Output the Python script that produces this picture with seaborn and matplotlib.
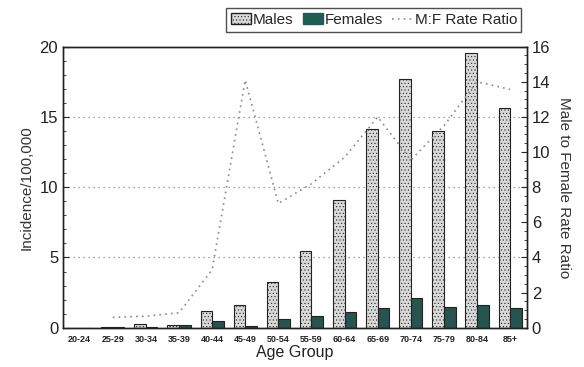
import numpy as np
import pandas as pd
import matplotlib
matplotlib.use('Agg')
import matplotlib.pyplot as plt
import seaborn as sns
from matplotlib.patches import Patch
from matplotlib.lines import Line2D
from matplotlib.ticker import MultipleLocator

# data
age_groups = ['20-24', '25-29', '30-34', '35-39', '40-44', '45-49', '50-54',
              '55-59', '60-64', '65-69', '70-74', '75-79', '80-84', '85+']
males = [0.0, 0.05, 0.26, 0.2, 1.18, 1.6, 3.22, 5.47, 9.07, 14.17, 17.68, 13.98, 19.58, 15.6]
females = [0.0, 0.05, 0.03, 0.2, 0.47, 0.12, 0.6, 0.82, 1.09, 1.39, 2.1, 1.46, 1.63, 1.42]
ratio = [np.nan, 0.59, 0.66, 0.85, 3.3, 14.1, 7.07, 8.2, 9.7, 12.0, 9.54, 11.5, 14.0, 13.56]

male_col = '#d9d9d9'
female_col = '#1f5c52'

sns.set_style('white')
plt.rcParams['font.family'] = ['Liberation Sans', 'DejaVu Sans']
plt.rcParams['hatch.linewidth'] = 0.4
plt.rcParams['hatch.color'] = '#8a8a8a'

df = pd.DataFrame({'age': age_groups * 2,
                   'rate': males + females,
                   'sex': ['Males'] * len(age_groups) + ['Females'] * len(age_groups)})

fig = plt.figure(figsize=(5.84, 3.67), dpi=100)
ax = fig.add_axes([0.108, 0.107, 0.794, 0.766])

sns.barplot(data=df, x='age', y='rate', hue='sex', order=age_groups,
            hue_order=['Males', 'Females'], palette=[male_col, female_col],
            width=0.7, gap=0, edgecolor='#222222', linewidth=0.8,
            legend=False, ax=ax)

# stipple the male bars
n = len(age_groups)
for bar in ax.patches[:n]:
    bar.set_hatch('.....')

ax.set_xlim(-0.5, n - 0.5)
ax.set_ylim(0, 20)
ax.yaxis.set_major_locator(MultipleLocator(5))
ax.yaxis.set_minor_locator(MultipleLocator(1))
for y in [5, 10, 15]:
    ax.axhline(y, color='#888888', linestyle=(0, (1, 3)), linewidth=0.9, zorder=0)
ax.set_xlabel('Age Group', fontsize=11.5, labelpad=1, color='#222222')
ax.set_ylabel('Incidence/100,000', fontsize=11, color='#333333')
ax.tick_params(axis='x', labelsize=6.5, length=0, pad=5, labelcolor='#222222')
ax.tick_params(axis='y', which='major', direction='in', length=4, labelsize=12, left=True,
               labelcolor='#222222')
ax.tick_params(axis='y', which='minor', direction='in', length=2, left=True)
for lbl in ax.get_xticklabels():
    lbl.set_fontweight('bold')

ax2 = ax.twinx()
sns.lineplot(x=np.arange(n), y=ratio, ax=ax2, color='#8a8a8a',
             linestyle=(0, (1, 2.5)), linewidth=1.2)
ax2.set_ylim(0, 16)
ax2.yaxis.set_major_locator(MultipleLocator(2))
ax2.yaxis.set_minor_locator(MultipleLocator(0.5))
ax2.tick_params(axis='y', which='major', direction='in', length=4, labelsize=12, right=True,
                labelcolor='#222222')
ax2.tick_params(axis='y', which='minor', direction='in', length=2, right=True)
ax2.set_ylabel('Male to Female Rate Ratio', rotation=270, labelpad=15, fontsize=11, color='#333333')

for a in (ax, ax2):
    for s in a.spines.values():
        s.set_color('#222222')
        s.set_linewidth(1.0)

handles = [Patch(facecolor=male_col, edgecolor='#222222', hatch='.....', label='Males'),
           Patch(facecolor=female_col, edgecolor=female_col, label='Females'),
           Line2D([0], [0], color='#8a8a8a', linestyle=(0, (1, 2.5)), linewidth=1.2,
                  label='M:F Rate Ratio')]
leg = fig.legend(handles=handles, loc='upper right', bbox_to_anchor=(0.906, 0.998),
                 ncol=3, frameon=True, fancybox=False, edgecolor='#222222',
                 fontsize=11, handlelength=1.3, handletextpad=0.15, columnspacing=0.6,
                 borderpad=0.3)
leg.get_frame().set_linewidth(1.0)

plt.savefig('out.png', dpi=100)
